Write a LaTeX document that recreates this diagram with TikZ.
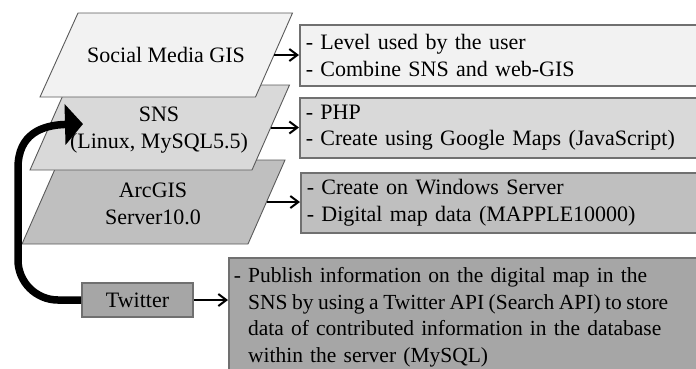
\documentclass[tikz,border=0pt]{standalone}
\usepackage{fontspec}
\setmainfont{Liberation Serif}
\usetikzlibrary{arrows.meta,calc}
\definecolor{cA}{HTML}{F2F2F2}
\definecolor{cB}{HTML}{D9D9D9}
\definecolor{cC}{HTML}{BFBFBF}
\definecolor{cD}{HTML}{A6A6A6}
\definecolor{cLine}{HTML}{5A5A5A}
\definecolor{cBorder}{HTML}{707070}
\begin{document}
\begin{tikzpicture}[x=1pt,y=-1pt,
  layer/.style={draw=cLine, line width=0.9pt, line join=miter},
  infobox/.style={draw=cBorder, line width=1.6pt, anchor=north west, align=left,
    text width=400pt, inner xsep=6pt, font=\fontsize{22}{26.5}\selectfont},
  lab/.style={align=center, font=\fontsize{22}{27}\selectfont, inner sep=0pt},
  conn/.style={-{Straight Barb[length=8pt,width=12pt]}, line width=2pt},
  big/.style={-{Triangle[length=18pt,width=40pt]}, line width=7.5pt}]
\useasboundingbox (0,0) rectangle (696,368);
\clip (0,0) rectangle (696,368);

% layers (bottom first)
\coordinate (aBL) at (22,244);  \coordinate (aBR) at (248,244);
\coordinate (aTR) at (285,160); \coordinate (aTL) at (59,160);
\draw[layer, fill=cC] (aBL) -- (aBR) -- (aTR) -- (aTL) -- cycle;
\coordinate (aR) at ($(aBR)!0.5!(aTR)$);

\coordinate (sBL) at (30,170);  \coordinate (sBR) at (252,170);
\coordinate (sTR) at (289.5,85); \coordinate (sTL) at (67.5,85);
\draw[layer, fill=cB] (sBL) -- (sBR) -- (sTR) -- (sTL) -- cycle;
\coordinate (sR) at ($(sBR)!0.5!(sTR)$);

\coordinate (mBL) at (40,97);   \coordinate (mBR) at (255.5,97);
\coordinate (mTR) at (292.5,13); \coordinate (mTL) at (78,13);
\draw[layer, fill=cA] (mBL) -- (mBR) -- (mTR) -- (mTL) -- cycle;
\coordinate (mR) at ($(mBR)!0.5!(mTR)$);

\node[lab] (smg) at (166,55) {Social Media GIS};
\node[lab] (sns) at (159,130) {SNS\\(Linux, MySQL5.5)};
\node[lab] (arc) at (153,203.5) {ArcGIS\\Server10.0};

% info boxes
\node[infobox, fill=cA, minimum height=61pt] (b1) at (299,24)
  {- Level used by the user\\- Combine SNS and web-GIS};
\node[infobox, fill=cB, minimum height=60pt] (b2) at (299,97)
  {- PHP\\- Create using Google Maps (JavaScript)};
\node[infobox, fill=cC, minimum height=60pt] (b3) at (300,172)
  {- Create on Windows Server\\- Digital map data (MAPPLE10000)};
\node[infobox, fill=cD, text width=470pt, inner xsep=5pt, inner ysep=10pt,
  font=\fontsize{21.5}{26.5}\selectfont] (b4) at (228,257)
  {- Publish information on the digital map in the\\
   \phantom{- }{\spaceskip=0.21em plus 0.1em SNS by using a Twitter API (Search API) to store}\\
   \phantom{- }data of contributed information in the database\\
   \phantom{- }within the server (MySQL)};

\node[draw=cBorder, line width=1.6pt, fill=cD, minimum width=111pt, minimum height=34pt,
  inner sep=0pt, font=\fontsize{22}{26}\selectfont] (tw) at (137.5,300) {Twitter};

% connectors
\draw[conn] (mR) -- (mR -| b1.west);
\draw[conn] (sR) -- (sR -| b2.west);
\draw[conn] (aR) -- (aR -| b3.west);
\draw[conn] (tw.east) -- (tw.east -| b4.west);

\coordinate (snsin) at (83,124);
\draw[big] (tw.west) -- (58,300) .. controls (36,300) and (18,282) .. (18,260)
  -- (18,168) .. controls (18,134) and (42,125) .. (snsin);
\end{tikzpicture}
\end{document}
